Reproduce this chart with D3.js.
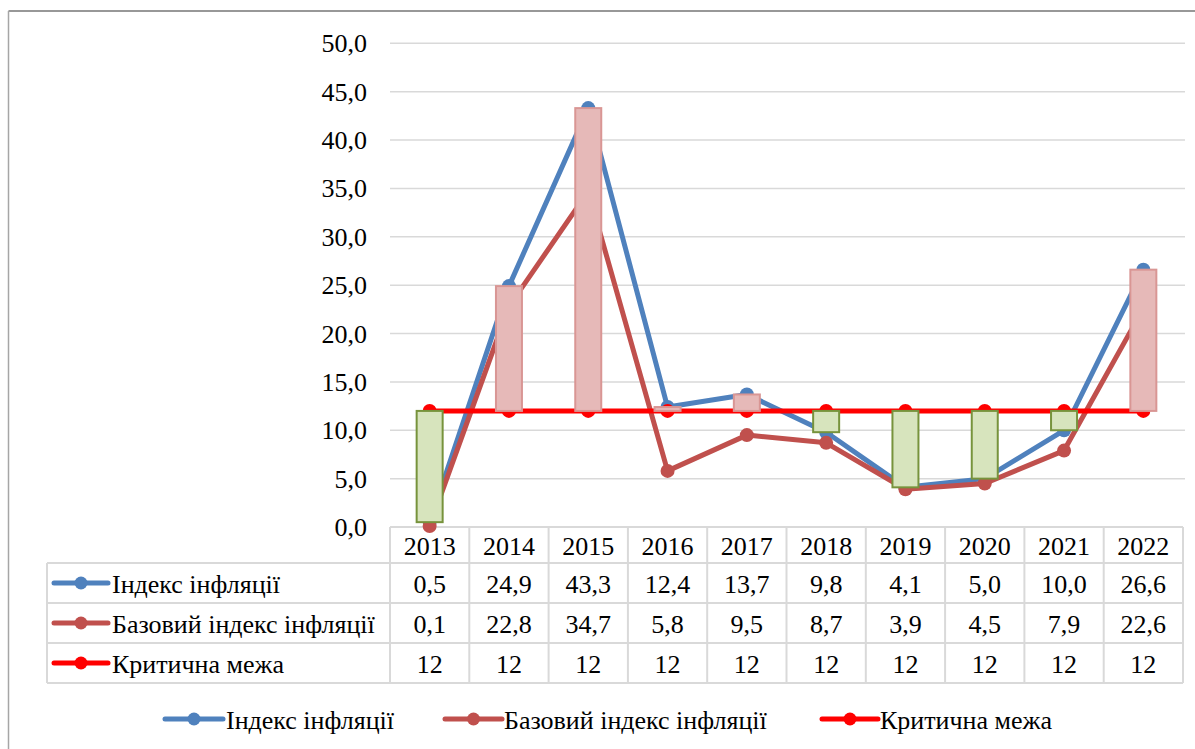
<!DOCTYPE html>
<html>
<head>
<meta charset="utf-8">
<script src="https://cdn.jsdelivr.net/npm/d3@7"></script>
<style>
  html, body { margin: 0; padding: 0; background: #fff; font-family: "Liberation Serif", Tinos, "Times New Roman", serif; }
  #chart, #chart text { font-family: "Liberation Serif", Tinos, "Times New Roman", serif !important; }
</style>
</head>
<body>
<svg id="chart" width="1195" height="749" style="font-family: 'Liberation Serif', Tinos, serif"></svg>
<script>
// Years on the category axis
const years = ["2013", "2014", "2015", "2016", "2017", "2018", "2019", "2020", "2021", "2022"];
// Inflation index, %
const inflation = [0.5, 24.9, 43.3, 12.4, 13.7, 9.8, 4.1, 5.0, 10.0, 26.6];
// Core inflation index, %
const coreInflation = [0.1, 22.8, 34.7, 5.8, 9.5, 8.7, 3.9, 4.5, 7.9, 22.6];
// Critical threshold
const critical = [12, 12, 12, 12, 12, 12, 12, 12, 12, 12];
// Y axis ticks
const yTicks = [0, 5, 10, 15, 20, 25, 30, 35, 40, 45, 50];

const seriesNames = ["Індекс інфляції", "Базовий індекс інфляції", "Критична межа"];
const seriesColors = ["#4f81bd", "#c0504d", "#ff0000"];
const seriesValues = [inflation, coreInflation, critical];
const seriesDecimals = [1, 1, 0];

const svg = d3.select("#chart");
const fontSize = 26;
const baselineShift = 9;

// Text centred vertically on y
function label(g, x, y, txt, anchor) {
  const t = g.append("text")
    .attr("x", x)
    .attr("y", y + baselineShift)
    .attr("font-size", fontSize)
    .style("font-family", "Liberation Serif");
  if (anchor) t.attr("text-anchor", anchor);
  return t.text(txt);
}
const fmt = (v, d) => v.toFixed(d).replace(".", ",");

// Outer frame (top and left edges)
svg.append("line").attr("x1", 8.5).attr("x2", 1195).attr("y1", 11).attr("y2", 11)
  .attr("stroke", "#767676").attr("stroke-width", 1.5);
svg.append("line").attr("x1", 8.5).attr("x2", 8.5).attr("y1", 11).attr("y2", 749)
  .attr("stroke", "#a6a6a6").attr("stroke-width", 1.5);

const x = d3.scaleBand().domain(years).range([390, 1183]);
const y = d3.scaleLinear().domain([0, 50]).range([527, 43.3]);
const cx = d => x(d) + x.bandwidth() / 2;

// Gridlines
svg.append("g").selectAll("line").data(yTicks.slice(1)).join("line")
  .attr("x1", 390).attr("x2", 1185)
  .attr("y1", d => y(d)).attr("y2", d => y(d))
  .attr("stroke", "#d9d9d9").attr("stroke-width", 1.5);

// Y axis labels
const yAxis = svg.append("g");
yTicks.forEach(t => label(yAxis, 367, y(t), fmt(t, 1), "end"));

// Data table grid
const rowTop = [527, 563, 603, 643, 683];
const tbl = svg.append("g").attr("stroke", "#d9d9d9").attr("stroke-width", 2).attr("fill", "none");
tbl.append("line").attr("x1", 390).attr("x2", 1183).attr("y1", rowTop[0]).attr("y2", rowTop[0]);
for (let i = 1; i < rowTop.length; i++) {
  tbl.append("line").attr("x1", 47).attr("x2", 1183).attr("y1", rowTop[i]).attr("y2", rowTop[i]);
}
years.concat(["end"]).forEach((yr, i) => {
  const xx = i < years.length ? x(yr) : 1183;
  tbl.append("line").attr("x1", xx).attr("x2", xx).attr("y1", rowTop[0]).attr("y2", rowTop[4]);
});
tbl.append("line").attr("x1", 47).attr("x2", 47).attr("y1", rowTop[1]).attr("y2", rowTop[4]);

// Table header (years)
const tText = svg.append("g");
years.forEach(yr => label(tText, cx(yr), (rowTop[0] + rowTop[1]) / 2 + 1, yr, "middle"));

// Table rows: legend key, name, values
function legendKey(g, x0, x1, yy, color) {
  g.append("line").attr("x1", x0).attr("x2", x1).attr("y1", yy).attr("y2", yy)
    .attr("stroke", color).attr("stroke-width", 5).attr("stroke-linecap", "round");
  g.append("circle").attr("cx", (x0 + x1) / 2).attr("cy", yy).attr("r", 6.5).attr("fill", color);
}
seriesNames.forEach((name, i) => {
  const yy = (rowTop[i + 1] + rowTop[i + 2]) / 2;
  legendKey(tText, 54, 108, yy, seriesColors[i]);
  label(tText, 112, yy + 1, name);
  seriesValues[i].forEach((v, j) => label(tText, cx(years[j]), yy + 1, fmt(v, seriesDecimals[i]), "middle"));
});

// Series lines with markers
const lineGen = d3.line().x((d, i) => cx(years[i])).y(d => y(d));
const plot = svg.append("g");
seriesValues.forEach((vals, i) => {
  const g = plot.append("g");
  g.append("path").attr("d", lineGen(vals)).attr("fill", "none")
    .attr("stroke", seriesColors[i]).attr("stroke-width", 5).attr("stroke-linejoin", "round");
  g.selectAll("circle").data(vals).join("circle")
    .attr("cx", (d, j) => cx(years[j])).attr("cy", d => y(d)).attr("r", 7)
    .attr("fill", seriesColors[i]);
});

// Up/down bars between the inflation index and the critical threshold
const barW = 26;
plot.append("g").selectAll("rect").data(years).join("rect")
  .attr("x", d => cx(d) - barW / 2)
  .attr("width", barW)
  .attr("y", (d, i) => y(Math.max(inflation[i], critical[i])))
  .attr("height", (d, i) => Math.abs(y(inflation[i]) - y(critical[i])))
  .attr("fill", (d, i) => critical[i] >= inflation[i] ? "#d7e4bd" : "#e6b9b8")
  .attr("stroke", (d, i) => critical[i] >= inflation[i] ? "#77933c" : "#d99694")
  .attr("stroke-width", 2);

// Legend below the table
const legend = svg.append("g");
const legendItems = [
  { key: [165, 223], text: 226 },
  { key: [445, 502], text: 504 },
  { key: [822, 878], text: 880 }
];
legendItems.forEach((it, i) => {
  legendKey(legend, it.key[0], it.key[1], 719, seriesColors[i]);
  label(legend, it.text, 720, seriesNames[i]);
});
</script>
</body>
</html>
